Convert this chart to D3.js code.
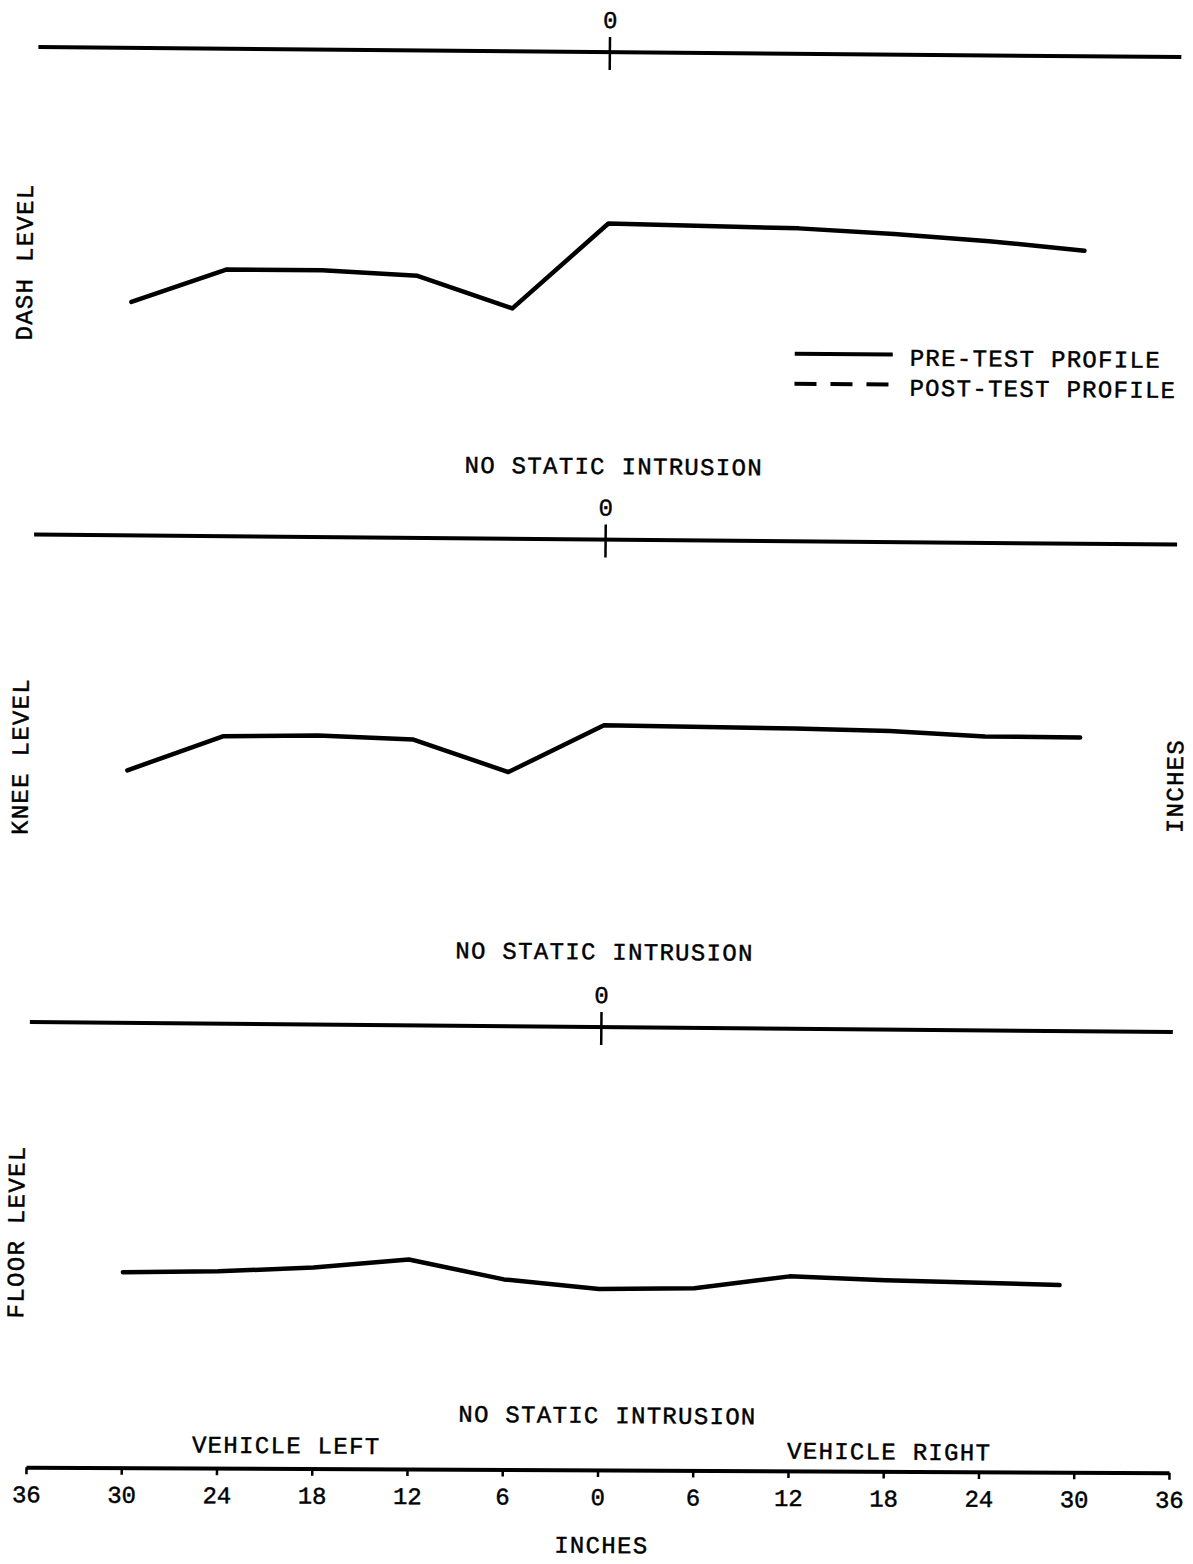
<!DOCTYPE html>
<html>
<head>
<meta charset="utf-8">
<script src="https://cdn.jsdelivr.net/npm/d3@7/dist/d3.min.js"></script>
<style>
  html, body { margin: 0; padding: 0; background: #fff; }
  svg { display: block; }
  text { font-family: "Liberation Mono", "DejaVu Sans Mono", monospace; fill: #000; stroke: #000; stroke-width: 0.45px; }
</style>
</head>
<body>
<script>
// ---- data (inches) ----
const panelNames = ["DASH LEVEL", "KNEE LEVEL", "FLOOR LEVEL"];
const statusLabels = ["NO STATIC INTRUSION", "NO STATIC INTRUSION", "NO STATIC INTRUSION"];

const dashX     = [-30, -24, -18, -12, -6, 0, 12, 18, 24, 30];
const dashDepth = [16.0, 13.9, 13.9, 14.2, 16.2, 10.8, 11.0, 11.3, 11.7, 12.25];

const kneeX     = [-30, -24, -18, -12, -6, 0, 12, 18, 24, 30];
const kneeDepth = [14.8, 12.6, 12.5, 12.7, 14.7, 11.7, 11.8, 11.9, 12.2, 12.2];

const floorX     = [-30, -24, -18, -12, -6, 0, 6, 12, 18, 24, 29];
const floorDepth = [15.7, 15.6, 15.3, 14.75, 15.95, 16.5, 16.4, 15.6, 15.8, 15.9, 16.0];

const tickValues = [-36, -30, -24, -18, -12, -6, 0, 6, 12, 18, 24, 30, 36];
const xDomain = [-36, 36];
const legendLabels = ["PRE-TEST PROFILE", "POST-TEST PROFILE"];
const sideLabels = { left: "VEHICLE LEFT", right: "VEHICLE RIGHT", axis: "INCHES" };

// ---- layout ----
const W = 1193, H = 1564;
const svg = d3.select("body").append("svg").attr("width", W).attr("height", H);
const root = svg.append("g").attr("transform", "rotate(0.5, 596, 782)");

const x = d3.scaleLinear().domain(xDomain).range([32, 1175]);
const pxPerInch = (x(36) - x(0)) / 36;
const depth = d3.scaleLinear().domain([0, 20]).range([0, 20 * pxPerInch]);

const panelTop = 52;
const panelStep = 487.5;

const profiles = [
  dashX.map((v, i) => [v, dashDepth[i]]),
  kneeX.map((v, i) => [v, kneeDepth[i]]),
  floorX.map((v, i) => [v, floorDepth[i]])
];

const fontSize = 24, ls = 1.3;

profiles.forEach((pts, i) => {
  const g = root.append("g").attr("transform", `translate(0, ${panelTop + i * panelStep})`);
  // reference (zero) line
  g.append("line")
    .attr("x1", x(xDomain[0])).attr("x2", x(xDomain[1]))
    .attr("y1", depth(0)).attr("y2", depth(0))
    .attr("stroke", "#000").attr("stroke-width", 4);
  // zero tick
  g.append("line")
    .attr("x1", x(0)).attr("x2", x(0))
    .attr("y1", -15).attr("y2", 18)
    .attr("stroke", "#000").attr("stroke-width", 2.5);
  g.append("text")
    .attr("x", x(0)).attr("y", -24)
    .attr("text-anchor", "middle")
    .attr("font-size", fontSize)
    .text("0");
  // profile
  const line = d3.line().x(d => x(d[0])).y(d => depth(d[1]));
  g.append("path")
    .attr("d", line(pts))
    .attr("fill", "none").attr("stroke", "#000")
    .attr("stroke-width", 4.5).attr("stroke-linejoin", "round").attr("stroke-linecap", "round");
  // side label
  const midY = [215, 222, 210][i];
  g.append("text")
    .attr("transform", `translate(28, ${midY}) rotate(-90)`)
    .attr("text-anchor", "middle")
    .attr("font-size", fontSize)
    .attr("letter-spacing", ls)
    .text(panelNames[i]);
  // status label
  const sx = [611, 606, 613][i];
  const sy = [422, 420, 396][i];
  g.append("text")
    .attr("x", sx).attr("y", sy)
    .attr("text-anchor", "middle")
    .attr("font-size", fontSize)
    .attr("letter-spacing", ls)
    .text(statusLabels[i]);
});

// legend
const leg = root.append("g").attr("transform", "translate(791, 352)");
legendLabels.forEach((lab, i) => {
  leg.append("line")
    .attr("x1", 0).attr("x2", 98)
    .attr("y1", i * 30).attr("y2", i * 30)
    .attr("stroke", "#000").attr("stroke-width", 4)
    .attr("stroke-dasharray", i === 0 ? null : "22,14");
  leg.append("text")
    .attr("x", 115).attr("y", i * 30 + 11)
    .attr("font-size", fontSize)
    .attr("letter-spacing", ls)
    .text(lab);
});

// bottom axis (scan skew is a bit smaller here)
const axisY = 1470;
const axisG = root.append("g").attr("transform", `rotate(-0.22, 603, ${axisY}) translate(0, ${axisY})`)
  .call(d3.axisBottom(x).tickValues(tickValues).tickFormat(d => Math.abs(d))
    .tickSize(7).tickSizeOuter(0).tickPadding(11));
axisG.select(".domain").attr("stroke", "#000").attr("stroke-width", 4);
axisG.selectAll(".tick line").attr("stroke", "#000").attr("stroke-width", 2.5);
axisG.selectAll(".tick text")
  .attr("font-family", "Liberation Mono, DejaVu Sans Mono, monospace")
  .attr("font-size", fontSize).attr("fill", "#000");

root.append("text").attr("x", 292).attr("y", 1456)
  .attr("text-anchor", "middle").attr("font-size", fontSize).attr("letter-spacing", ls)
  .text(sideLabels.left);
root.append("text").attr("x", 895).attr("y", 1457)
  .attr("text-anchor", "middle").attr("font-size", fontSize).attr("letter-spacing", ls)
  .text(sideLabels.right);
root.append("text").attr("x", 608).attr("y", 1553)
  .attr("text-anchor", "middle").attr("font-size", fontSize).attr("letter-spacing", ls)
  .text(sideLabels.axis);
// units label at the right edge
root.append("text")
  .attr("transform", "translate(1183, 781) rotate(-90)")
  .attr("text-anchor", "middle").attr("font-size", fontSize).attr("letter-spacing", ls)
  .text(sideLabels.axis);
</script>
</body>
</html>
